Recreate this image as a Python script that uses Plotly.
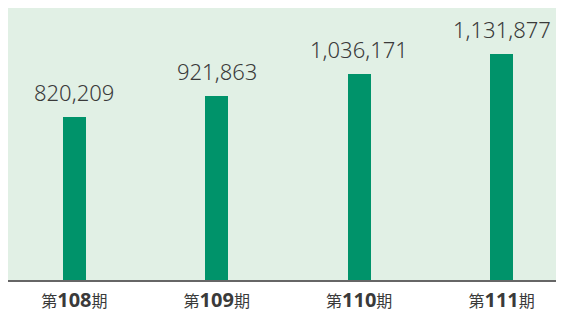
import plotly.graph_objects as go

periods = ["108", "109", "110", "111"]
values = [820209, 921863, 1036171, 1131877]
value_labels = ["820,209", "921,863", "1,036,171", "1,131,877"]

x_pos = list(range(len(periods)))
tick_text = [
    f"第<span style=\"font-size:20px;font-weight:bold\">{p}</span>期" for p in periods
]

BAR = "#00936a"
BG = "#e1f0e5"
TXT = "#3a3a3a"
FONT = "Noto Sans, Noto Sans CJK JP, sans-serif"

fig = go.Figure()
fig.add_trace(go.Bar(
    x=x_pos, y=values, width=0.161, marker_color=BAR,
    marker_line_width=0, hoverinfo="skip",
))

for xp, v, lab in zip(x_pos, values, value_labels):
    fig.add_annotation(
        x=xp, y=v, text=lab, showarrow=False, yanchor="bottom",
        yshift=8, font=dict(size=22, color=TXT, family=FONT, weight=300),
    )

# page body has an 8px default margin, so the figure is sized to fit
fig.update_layout(
    width=556, height=305,
    margin=dict(l=0, r=0, t=0, b=33, autoexpand=False),
    paper_bgcolor="white", plot_bgcolor=BG,
    showlegend=False,
    bargap=0,
    font=dict(family=FONT, color=TXT),
)
fig.update_xaxes(
    range=[-0.466, 3.438], tickvals=x_pos, ticktext=tick_text,
    showgrid=False, zeroline=False, showline=True, linecolor="#666666",
    linewidth=2, ticks="", tickfont=dict(size=16, color=TXT, family=FONT),
    ticklabelstandoff=6,
    fixedrange=True, automargin=False,
)
fig.update_yaxes(
    range=[0, 1365000], showticklabels=False, showgrid=False,
    zeroline=False, showline=False, fixedrange=True, automargin=False,
)

fig.write_html("out.html", config={"displayModeBar": False})
